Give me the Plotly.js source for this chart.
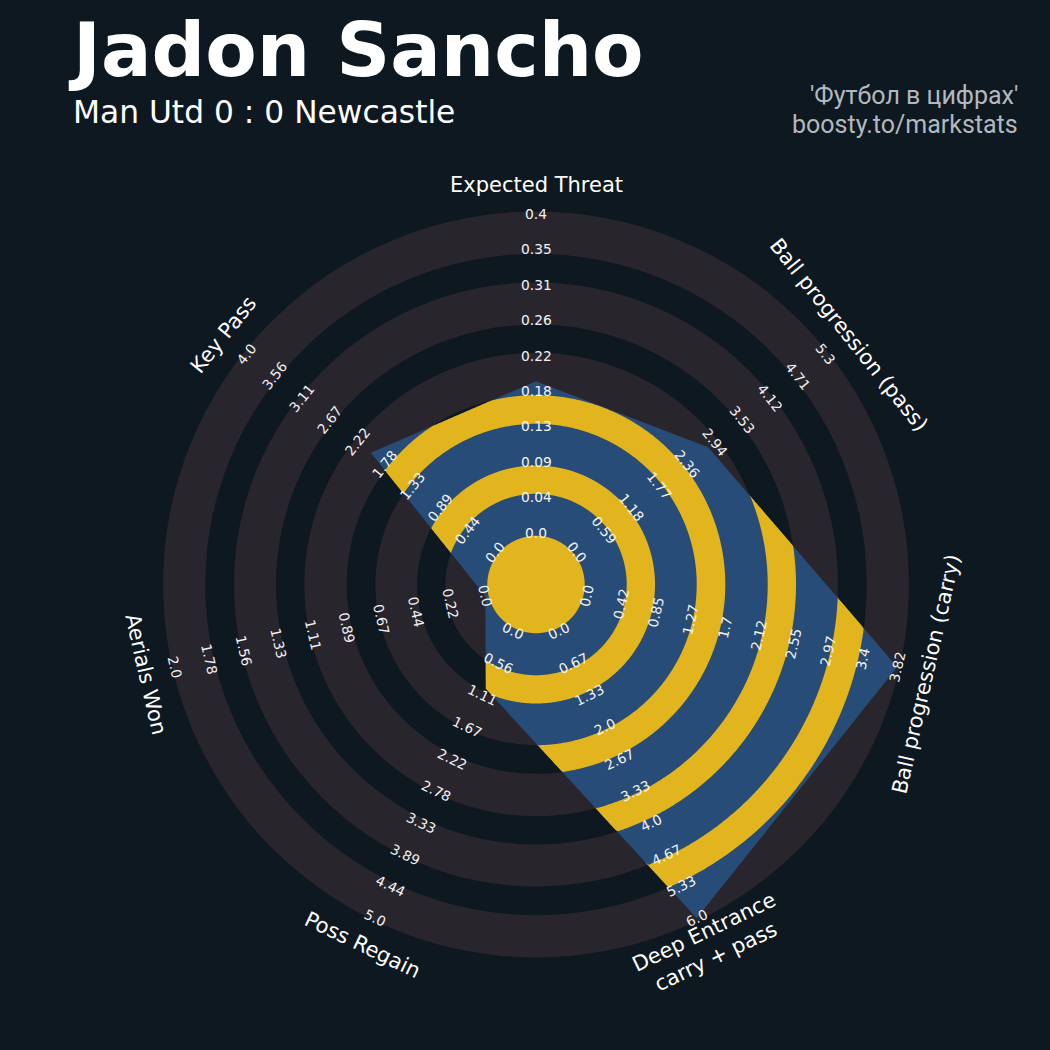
<!DOCTYPE html>
<html><head><meta charset="utf-8">
<script src="https://cdn.plot.ly/plotly-3.0.1.min.js"></script>
<style>html,body{margin:0;padding:0;background:#0e1820;}#chart{width:1050px;height:1050px;}</style>
</head><body><div id="chart"></div>
<script>
// ---------- data ----------
const params = ['Expected Threat', 'Ball progression (pass)', 'Ball progression (carry)',
  'Deep Entrance<br>carry + pass', 'Poss Regain', 'Aerials Won', 'Key Pass'];
const minRange = [0, 0, 0, 0, 0, 0, 0];
const maxRange = [0.4, 5.3, 3.82, 6.0, 5.0, 2.0, 4.0];
const values = [0.19, 2.8, 3.82, 6.0, 1.0, 0.0, 2.0];
const labelsXT = ['0.0', '0.04', '0.09', '0.13', '0.18', '0.22', '0.26', '0.31', '0.35', '0.4'];
const labelsPass = ['0.0', '0.59', '1.18', '1.77', '2.36', '2.94', '3.53', '4.12', '4.71', '5.3'];
const labelsCarry = ['0.0', '0.42', '0.85', '1.27', '1.7', '2.12', '2.55', '2.97', '3.4', '3.82'];
const labelsDeep = ['0.0', '0.67', '1.33', '2.0', '2.67', '3.33', '4.0', '4.67', '5.33', '6.0'];
const labelsRegain = ['0.0', '0.56', '1.11', '1.67', '2.22', '2.78', '3.33', '3.89', '4.44', '5.0'];
const labelsAerial = ['0.0', '0.22', '0.44', '0.67', '0.89', '1.11', '1.33', '1.56', '1.78', '2.0'];
const labelsKey = ['0.0', '0.44', '0.89', '1.33', '1.78', '2.22', '2.67', '3.11', '3.56', '4.0'];
const ringLabels = [labelsXT, labelsPass, labelsCarry, labelsDeep, labelsRegain, labelsAerial, labelsKey];
const titleText = 'Jadon Sancho';
const subtitleText = 'Man Utd 0 : 0 Newcastle';
const creditLines = ["'Футбол в цифрах'", 'boosty.to/markstats'];

// ---------- style ----------
const BG = '#0e1820', GREY = '#28252c', BLUE = '#274c77', YELLOW = '#e2b51e';
const R0 = 52, R1 = 370.5;            // radius of min / max value
const CENTER_R = 48.7;
const ringEdges = [373, 330.7, 302, 260, 231.7, 189.3, 160.7, 119, 90.7]; // alternating grey / dark
const LABEL_R = 400;
const FONT = 'DejaVu Sans';
const NOLINE = { width: 0, color: 'rgba(0,0,0,0)' };

const N = params.length;
const deg = Math.PI / 180;
const angles = params.map((_, i) => (90 - i * 360 / N) * deg);
const toR = (v, i) => R0 + (v - minRange[i]) / (maxRange[i] - minRange[i]) * (R1 - R0);
const verts = values.map((v, i) => { const r = toR(v, i); return [r * Math.cos(angles[i]), r * Math.sin(angles[i])]; });

function clipped(R) {
  const xs = [], ys = [];
  const steps = 120;
  for (let i = 0; i < N; i++) {
    const A = verts[i], B = verts[(i + 1) % N];
    const tA = angles[i], tB = angles[i] - 2 * Math.PI / N;
    const d = [B[0] - A[0], B[1] - A[1]];
    const num = A[0] * d[1] - A[1] * d[0];
    for (let s = 0; s < steps; s++) {
      const th = tA + (tB - tA) * s / steps;
      const u = [Math.cos(th), Math.sin(th)];
      const den = u[0] * d[1] - u[1] * d[0];
      let r = Math.abs(den) < 1e-12 ? Math.hypot(A[0], A[1]) : num / den;
      r = Math.min(r, R);
      xs.push(r * u[0]); ys.push(r * u[1]);
    }
  }
  xs.push(xs[0]); ys.push(ys[0]);
  return { xs, ys };
}

const traces = [];
// full radar polygon
traces.push({ type: 'scatter', mode: 'none', x: verts.map(v => v[0]).concat([verts[0][0]]),
  y: verts.map(v => v[1]).concat([verts[0][1]]), fill: 'toself', fillcolor: BLUE,
  line: NOLINE, hoverinfo: 'skip', showlegend: false });
// yellow bands = dark-gap annuli clipped to the polygon
const inner = ringEdges.slice(1);
for (let k = 0; k + 1 < inner.length; k += 2) {
  const o = clipped(inner[k]), n = clipped(inner[k + 1]);
  const xs = o.xs.concat(n.xs.slice().reverse());
  const ys = o.ys.concat(n.ys.slice().reverse());
  xs.push(xs[0]); ys.push(ys[0]);
  traces.push({ type: 'scatter', mode: 'none', x: xs, y: ys, fill: 'toself', fillcolor: YELLOW,
    line: NOLINE, hoverinfo: 'skip', showlegend: false });
}
// centre circle
{
  const xs = [], ys = [];
  for (let a = 0; a <= 360; a += 1) { xs.push(CENTER_R * Math.cos(a * deg)); ys.push(CENTER_R * Math.sin(a * deg)); }
  traces.push({ type: 'scatter', mode: 'none', x: xs, y: ys, fill: 'toself', fillcolor: YELLOW,
    line: NOLINE, hoverinfo: 'skip', showlegend: false });
}

const shapes = ringEdges.map((R, k) => ({
  type: 'circle', xref: 'x', yref: 'y', x0: -R, x1: R, y0: -R, y1: R,
  fillcolor: k % 2 === 0 ? GREY : BG, line: { width: 0 }, layer: 'below'
}));

function tangentAngle(i) {
  let a = (angles[i] / deg) - 90;
  while (a <= -90) a += 180;
  while (a > 90) a -= 180;
  return a;
}

const annotations = [];
for (let i = 0; i < N; i++) {
  const ta = -tangentAngle(i);
  const lab = ringLabels[i];
  for (let j = 0; j < lab.length; j++) {
    const r = R0 + j / (lab.length - 1) * (R1 - R0);
    annotations.push({ x: r * Math.cos(angles[i]), y: r * Math.sin(angles[i]), xref: 'x', yref: 'y',
      text: lab[j], showarrow: false, textangle: ta, xanchor: 'center', yanchor: 'middle',
      font: { family: FONT, size: 13.8, color: '#f2f2f2' } });
  }
  annotations.push({ x: LABEL_R * Math.cos(angles[i]), y: LABEL_R * Math.sin(angles[i]), xref: 'x', yref: 'y',
    text: params[i], showarrow: false, textangle: ta, xanchor: 'center', yanchor: 'middle',
    font: { family: FONT, size: 21, color: '#ffffff' } });
}
annotations.push({ xref: 'paper', yref: 'paper', x: 66 / 1050, y: 1 - 50 / 1050, xanchor: 'left', yanchor: 'middle',
  text: titleText, showarrow: false, font: { family: FONT, size: 75, color: '#ffffff', weight: 700 } });
annotations.push({ xref: 'paper', yref: 'paper', x: 71 / 1050, y: 1 - 112 / 1050, xanchor: 'left', yanchor: 'middle',
  text: subtitleText, showarrow: false, font: { family: FONT, size: 31.3, color: '#ffffff' } });
annotations.push({ xref: 'paper', yref: 'paper', x: 1020 / 1050, y: 1 - 96 / 1050, xanchor: 'right', yanchor: 'middle',
  text: creditLines[0], showarrow: false, font: { family: 'Roboto', size: 25, color: '#b3b8be' } });
annotations.push({ xref: 'paper', yref: 'paper', x: 1020 / 1050, y: 1 - 124 / 1050, xanchor: 'right', yanchor: 'middle',
  text: creditLines[1], showarrow: false, font: { family: 'Roboto', size: 25, color: '#b3b8be' } });

const layout = {
  width: 1050, height: 1050, margin: { l: 0, r: 0, t: 0, b: 0, pad: 0 },
  paper_bgcolor: BG, plot_bgcolor: BG, showlegend: false,
  xaxis: { range: [-536, 514], visible: false, fixedrange: true },
  yaxis: { range: [-465.5, 584.5], visible: false, fixedrange: true },
  shapes, annotations
};
Plotly.newPlot('chart', traces, layout, { staticPlot: true, displayModeBar: false });
</script>
</body></html>
